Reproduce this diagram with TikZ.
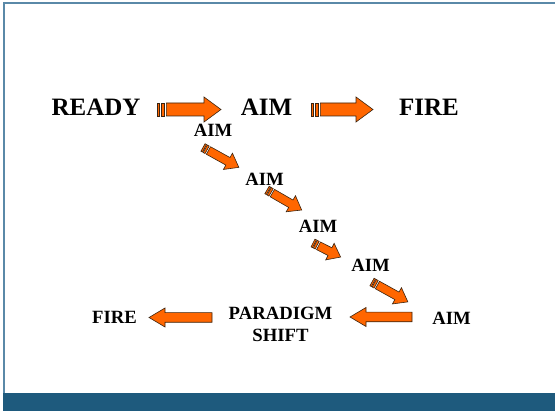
\documentclass[tikz,border=0pt]{standalone}
\usepackage{fontspec}
\setmainfont{Liberation Serif}
\usepackage{tikz}
\usepackage{xcolor}
\usetikzlibrary{positioning}

\definecolor{arroworange}{HTML}{FF6600}
\definecolor{arrowedge}{HTML}{3B2410}
\definecolor{framecol}{HTML}{5A89A8}
\definecolor{barcol}{HTML}{1E5A7D}

\tikzset{
    arrowbody/.style={fill=arroworange, draw=arrowedge, line width=0.6pt, line join=miter},
    bigword/.style={inner sep=0pt, font=\fontsize{25}{28}\selectfont\bfseries},
    smallword/.style={inner sep=0pt, font=\fontsize{18.7}{21.6}\selectfont\bfseries}
}

% block arrow: tail point, angle, length, half shaft, half head, head length
\newcommand{\blockarrow}[6]{%
    \begin{scope}[shift={#1}, rotate=#2]
        \draw[arrowbody] (0,-#4) -- (#3-#6,-#4) -- (#3-#6,-#5) -- (#3,0)
            -- (#3-#6,#5) -- (#3-#6,#4) -- (0,#4) -- cycle;
    \end{scope}}

% same, with the two bars at the tail
\newcommand{\stripedarrow}[6]{%
    \begin{scope}[shift={#1}, rotate=#2]
        \draw[arrowbody] (0,-#4) rectangle (0.4*#4,#4);
        \draw[arrowbody] (0.6*#4,-#4) rectangle (1.1*#4,#4);
        \draw[arrowbody] (1.45*#4,-#4) -- (#3-#6,-#4) -- (#3-#6,-#5) -- (#3,0)
            -- (#3-#6,#5) -- (#3-#6,#4) -- (1.45*#4,#4) -- cycle;
    \end{scope}}

\begin{document}
\begin{tikzpicture}[x=1pt, y=-1pt]
    \useasboundingbox (0,0) rectangle (555,411);

    % slide frame and bottom band
    \fill[barcol] (3,392.7) rectangle (555,411);
    \draw[framecol, line width=1.8pt] (4,393) -- (4,2.9) -- (555,2.9);

    % top row
    \node[bigword, anchor=base] (ready) at (96,115.5) {READY};
    \node[bigword, anchor=base] (aim) at (266.5,115.5) {AIM};
    \node[bigword, anchor=base] (fire) at (429,115.5) {FIRE};

    \stripedarrow{(157,109.5)}{0}{64}{6.5}{12.5}{17}
    \stripedarrow{(311,109.5)}{0}{62}{6.5}{12.5}{17}

    % the staircase of aims
    \node[smallword, anchor=base] (aima) at (213,137) {AIM};
    \node[smallword, anchor=base] (aimb) at (264.5,186) {AIM};
    \node[smallword, anchor=base] (aimc) at (318,233) {AIM};
    \node[smallword, anchor=base] (aimd) at (370.5,271.5) {AIM};
    \node[smallword, anchor=base] (aime) at (451.5,325) {AIM};

    \stripedarrow{(203,147.5)}{-29}{41}{4.3}{9.3}{12.5}
    \stripedarrow{(267,190)}{-30}{40}{4.3}{9.3}{12.5}
    \stripedarrow{(313,243)}{-27}{31}{4.3}{9.3}{12}
    \stripedarrow{(372,282)}{-29}{41}{4.3}{9.3}{12.5}

    % bottom row, back to the left
    \node[smallword, align=center] (paradigm) at (280.5,324.2) {PARADIGM\\SHIFT};
    \node[smallword, anchor=base] (firelow) at (114.5,323.3) {FIRE};

    \blockarrow{(412,317)}{180}{62}{4.8}{9.5}{16}
    \blockarrow{(212,317.5)}{180}{63}{4.8}{9.5}{16}
\end{tikzpicture}
\end{document}
